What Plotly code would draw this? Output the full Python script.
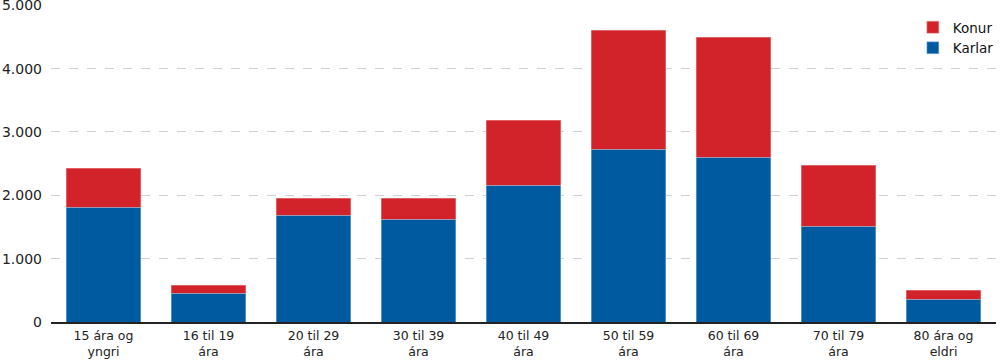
import plotly.graph_objects as go

categories = ["15 ára og<br>yngri", "16 til 19<br>ára", "20 til 29<br>ára", "30 til 39<br>ára",
              "40 til 49<br>ára", "50 til 59<br>ára", "60 til 69<br>ára", "70 til 79<br>ára",
              "80 ára og<br>eldri"]
karlar = [1810, 457, 1688, 1625, 2161, 2729, 2603, 1514, 363]
konur = [619, 127, 268, 331, 1025, 1877, 1892, 962, 142]
y_ticks = [0, 1000, 2000, 3000, 4000, 5000]

fig = go.Figure()
fig.add_trace(go.Bar(x=categories, y=karlar, name="Karlar", marker=dict(color="#005aa0", line=dict(color="rgba(160,200,240,0.8)", width=0.6))))
fig.add_trace(go.Bar(x=categories, y=konur, name="Konur", marker=dict(color="#d2232a", line=dict(color="rgba(240,160,160,0.8)", width=0.6))))

fig.update_layout(
    barmode="stack",
    bargap=0.29,
    width=1000, height=361,
    margin=dict(l=51, r=1, t=5, b=39),
    plot_bgcolor="white", paper_bgcolor="white",
    separators=",.",
    font=dict(family="DejaVu Sans", size=12, color="#222"),
    legend=dict(x=0.912, y=0.978, xanchor="left", yanchor="top", traceorder="reversed",
                font=dict(size=13.5, color="#111"), bgcolor="rgba(0,0,0,0)", itemwidth=30,
                tracegroupgap=0),
    showlegend=True,
)
fig.update_yaxes(range=[0, 5005], tickvals=y_ticks, tickformat=",d", showgrid=True,
                 gridcolor="#d0d0d0", griddash="dash", gridwidth=1, zeroline=False,
                 ticks="", tickfont=dict(size=14, color="#222"), ticklabelstandoff=8,
                 ticklabeloverflow="allow", automargin=False)
fig.update_xaxes(showline=True, linecolor="#222", linewidth=1.5, ticks="",
                 tickfont=dict(size=12.5, color="#222"), ticklabelstandoff=1, automargin=False)

fig.write_html("out.html", post_script="document.body.style.margin='0';",
               config={"displayModeBar": False})
